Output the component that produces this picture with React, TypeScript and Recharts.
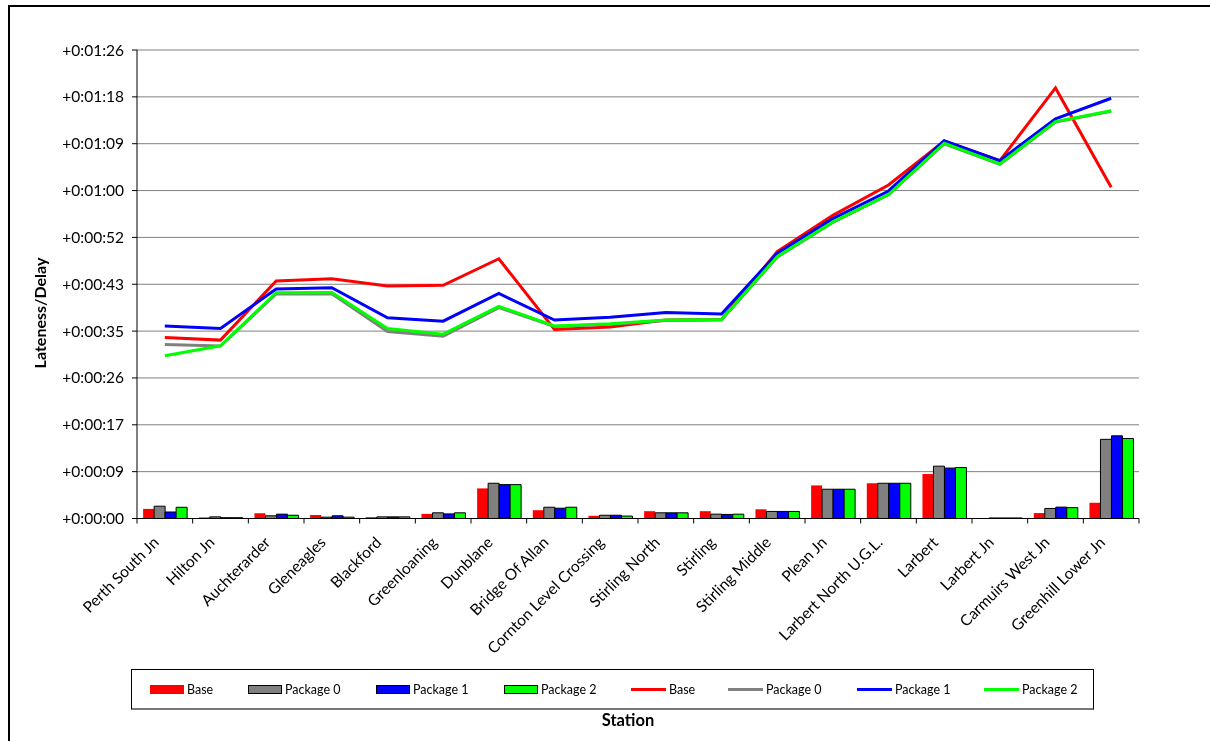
import { Bar, CartesianGrid, ComposedChart, Legend, Line, XAxis, YAxis } from "recharts";

// lateness per station, in seconds
const stations = [
  "Perth South Jn",
  "Hilton Jn",
  "Auchterarder",
  "Gleneagles",
  "Blackford",
  "Greenloaning",
  "Dunblane",
  "Bridge Of Allan",
  "Cornton Level Crossing",
  "Stirling North",
  "Stirling",
  "Stirling Middle",
  "Plean Jn",
  "Larbert North U.G.L.",
  "Larbert",
  "Larbert Jn",
  "Carmuirs West Jn",
  "Greenhill Lower Jn",
];

const barBase = [1.77, 0.2, 0.97, 0.65, 0.25, 0.85, 5.55, 1.53, 0.5, 1.35, 1.35, 1.7, 6.1, 6.5, 8.2, 0.1, 1.0, 2.9];
const barPkg0 = [2.27, 0.3, 0.5, 0.25, 0.3, 1.05, 6.5, 2.08, 0.6, 1.05, 0.8, 1.3, 5.4, 6.5, 9.65, 0.1, 1.85, 14.6];
const barPkg1 = [1.2, 0.15, 0.8, 0.5, 0.3, 0.85, 6.25, 1.9, 0.6, 1.05, 0.75, 1.3, 5.4, 6.5, 9.3, 0.1, 2.1, 15.25];
const barPkg2 = [2.07, 0.15, 0.6, 0.25, 0.3, 1.05, 6.25, 2.08, 0.45, 1.05, 0.8, 1.3, 5.4, 6.5, 9.4, 0.1, 2.0, 14.75];

const lineBase = [33.4, 32.9, 43.8, 44.2, 42.9, 43.0, 47.9, 34.85, 35.3, 36.6, 36.7, 49.2, 55.9, 61.5, 69.6, 66.0, 79.4, 61.1];
const linePkg0 = [32.1, 31.8, 41.4, 41.45, 34.5, 33.6, 38.9, 35.4, 35.8, 36.5, 36.6, 48.2, 54.6, 59.7, 69.1, 65.3, 73.1, 75.1];
const linePkg1 = [35.5, 35.05, 42.33, 42.57, 37.0, 36.4, 41.5, 36.6, 37.1, 38.0, 37.7, 48.9, 55.3, 60.4, 69.67, 66.0, 73.7, 77.5];
const linePkg2 = [30.0, 31.85, 41.65, 41.7, 35.05, 34.0, 39.1, 35.5, 35.9, 36.6, 36.7, 48.3, 54.7, 59.75, 69.2, 65.4, 73.2, 75.2];

// Excel-style day fractions: 1/10000 of a day per step
const yTicks = [0, 8.64, 17.28, 25.92, 34.56, 43.2, 51.84, 60.48, 69.12, 77.76, 86.4];

const data = stations.map((station, i) => ({
  station,
  barBase: barBase[i],
  barPkg0: barPkg0[i],
  barPkg1: barPkg1[i],
  barPkg2: barPkg2[i],
  lineBase: lineBase[i],
  linePkg0: linePkg0[i],
  linePkg1: linePkg1[i],
  linePkg2: linePkg2[i],
}));

const FONT = "Lato, 'Open Sans', sans-serif";
const RED = "#FF0000";
const GREY = "#808080";
const BLUE = "#0000FF";
const GREEN = "#00FF00";

const legendItems = [
  { name: "Base", color: RED, kind: "bar", border: false, left: 18 },
  { name: "Package 0", color: GREY, kind: "bar", border: true, left: 116 },
  { name: "Package 1", color: BLUE, kind: "bar", border: true, left: 244 },
  { name: "Package 2", color: GREEN, kind: "bar", border: true, left: 372 },
  { name: "Base", color: RED, kind: "line", border: false, left: 499 },
  { name: "Package 0", color: GREY, kind: "line", border: false, left: 596 },
  { name: "Package 1", color: BLUE, kind: "line", border: false, left: 725 },
  { name: "Package 2", color: GREEN, kind: "line", border: false, left: 852 },
];

const PLOT_W = 1002;
const HALF_BAND = PLOT_W / stations.length / 2;

function fmtDelay(v: number) {
  const s = Math.round(v);
  const m = Math.floor(s / 60);
  const ss = s % 60;
  return `+0:${String(m).padStart(2, "0")}:${String(ss).padStart(2, "0")}`;
}

function StationTick(props: any) {
  const { x, y, payload, index } = props;
  const last = index === stations.length - 1;
  return (
    <g>
      <line x1={x - HALF_BAND} y1={y} x2={x - HALF_BAND} y2={y + 5} stroke="#000" />
      {last && <line x1={x + HALF_BAND} y1={y} x2={x + HALF_BAND} y2={y + 5} stroke="#000" />}
      <text
        x={x - 5}
        y={y + 25}
        transform={`rotate(-45, ${x - 5}, ${y + 25})`}
        textAnchor="end"
        fontFamily={FONT}
        fontSize={15.5}
        fill="#000"
      >
        {payload.value}
      </text>
    </g>
  );
}

function LegendBox() {
  return (
    <div
      style={{
        position: "relative",
        width: 961,
        height: 38,
        border: "1px solid #000",
        borderBottom: "2px solid #777",
        background: "#fff",
        fontFamily: FONT,
        fontSize: 12.5,
        color: "#000",
      }}
    >
      {legendItems.map((it, i) => (
        <div
          key={i}
          style={{ position: "absolute", left: it.left, top: 0, height: 38, display: "flex", alignItems: "center" }}
        >
          {it.kind === "bar" ? (
            <span
              style={{
                display: "inline-block",
                width: it.border ? 32 : 34,
                height: it.border ? 7 : 9,
                background: it.color,
                border: it.border ? "1px solid #000" : "none",
              }}
            />
          ) : (
            <span style={{ display: "inline-block", width: 35, height: 3, background: it.color }} />
          )}
          <span style={{ marginLeft: 3 }}>{it.name}</span>
        </div>
      ))}
    </div>
  );
}

export default function App() {
  return (
    <>
      <div
        style={{
          position: "fixed",
          left: 8,
          top: 5,
          width: 1400,
          height: 900,
          borderLeft: "2.5px solid #000",
          borderTop: "2.5px solid #000",
          boxSizing: "border-box",
        }}
      />
      <div style={{ position: "fixed", left: 0, top: 0 }}>
        <ComposedChart
          width={1210}
          height={741}
          data={data}
          margin={{ top: 50, right: 71, bottom: 72.5, left: 0 }}
          barGap={0}
          barCategoryGap="11%"
        >
          <CartesianGrid vertical={false} stroke={GREY} strokeWidth={1} />
          <XAxis
            dataKey="station"
            height={150}
            interval={0}
            tickSize={0}
            tickMargin={0}
            tickLine={false}
            axisLine={{ stroke: "#000" }}
            tick={<StationTick />}
            label={{
              content: () => (
                <text x={628} y={726} textAnchor="middle" fontFamily={FONT} fontSize={16.5} fontWeight="bold" fill="#000">
                  Station
                </text>
              ),
            }}
          />
          <YAxis
            width={137}
            domain={[0, 86.4]}
            ticks={yTicks}
            interval={0}
            tickFormatter={fmtDelay}
            tickSize={5}
            tickMargin={8}
            tick={{ fontFamily: FONT, fontSize: 15.5, fill: "#000" }}
            axisLine={{ stroke: "#000" }}
            tickLine={{ stroke: "#000" }}
            label={{
              content: () => (
                <text
                  x={46}
                  y={313}
                  transform="rotate(-90, 46, 313)"
                  textAnchor="middle"
                  fontFamily={FONT}
                  fontSize={16}
                  fontWeight="bold"
                  fill="#000"
                >
                  Lateness/Delay
                </text>
              ),
            }}
          />
          <Legend
            verticalAlign="middle"
            layout="horizontal"
            wrapperStyle={{ position: "absolute", left: 131, top: 669, width: 963, height: 41 }}
            content={() => <LegendBox />}
          />
          <Bar dataKey="barBase" name="Base" fill={RED} isAnimationActive={false} />
          <Bar dataKey="barPkg0" name="Package 0" fill={GREY} stroke="#000" strokeWidth={1} isAnimationActive={false} />
          <Bar dataKey="barPkg1" name="Package 1" fill={BLUE} stroke="#000" strokeWidth={1} isAnimationActive={false} />
          <Bar dataKey="barPkg2" name="Package 2" fill={GREEN} stroke="#000" strokeWidth={1} isAnimationActive={false} />
          <Line dataKey="lineBase" name="Base" stroke={RED} strokeWidth={3} dot={false} activeDot={false} isAnimationActive={false} />
          <Line dataKey="linePkg0" name="Package 0" stroke={GREY} strokeWidth={3} dot={false} activeDot={false} isAnimationActive={false} />
          <Line dataKey="linePkg1" name="Package 1" stroke={BLUE} strokeWidth={3} dot={false} activeDot={false} isAnimationActive={false} />
          <Line dataKey="linePkg2" name="Package 2" stroke={GREEN} strokeWidth={3} dot={false} activeDot={false} isAnimationActive={false} />
        </ComposedChart>
      </div>
    </>
  );
}
